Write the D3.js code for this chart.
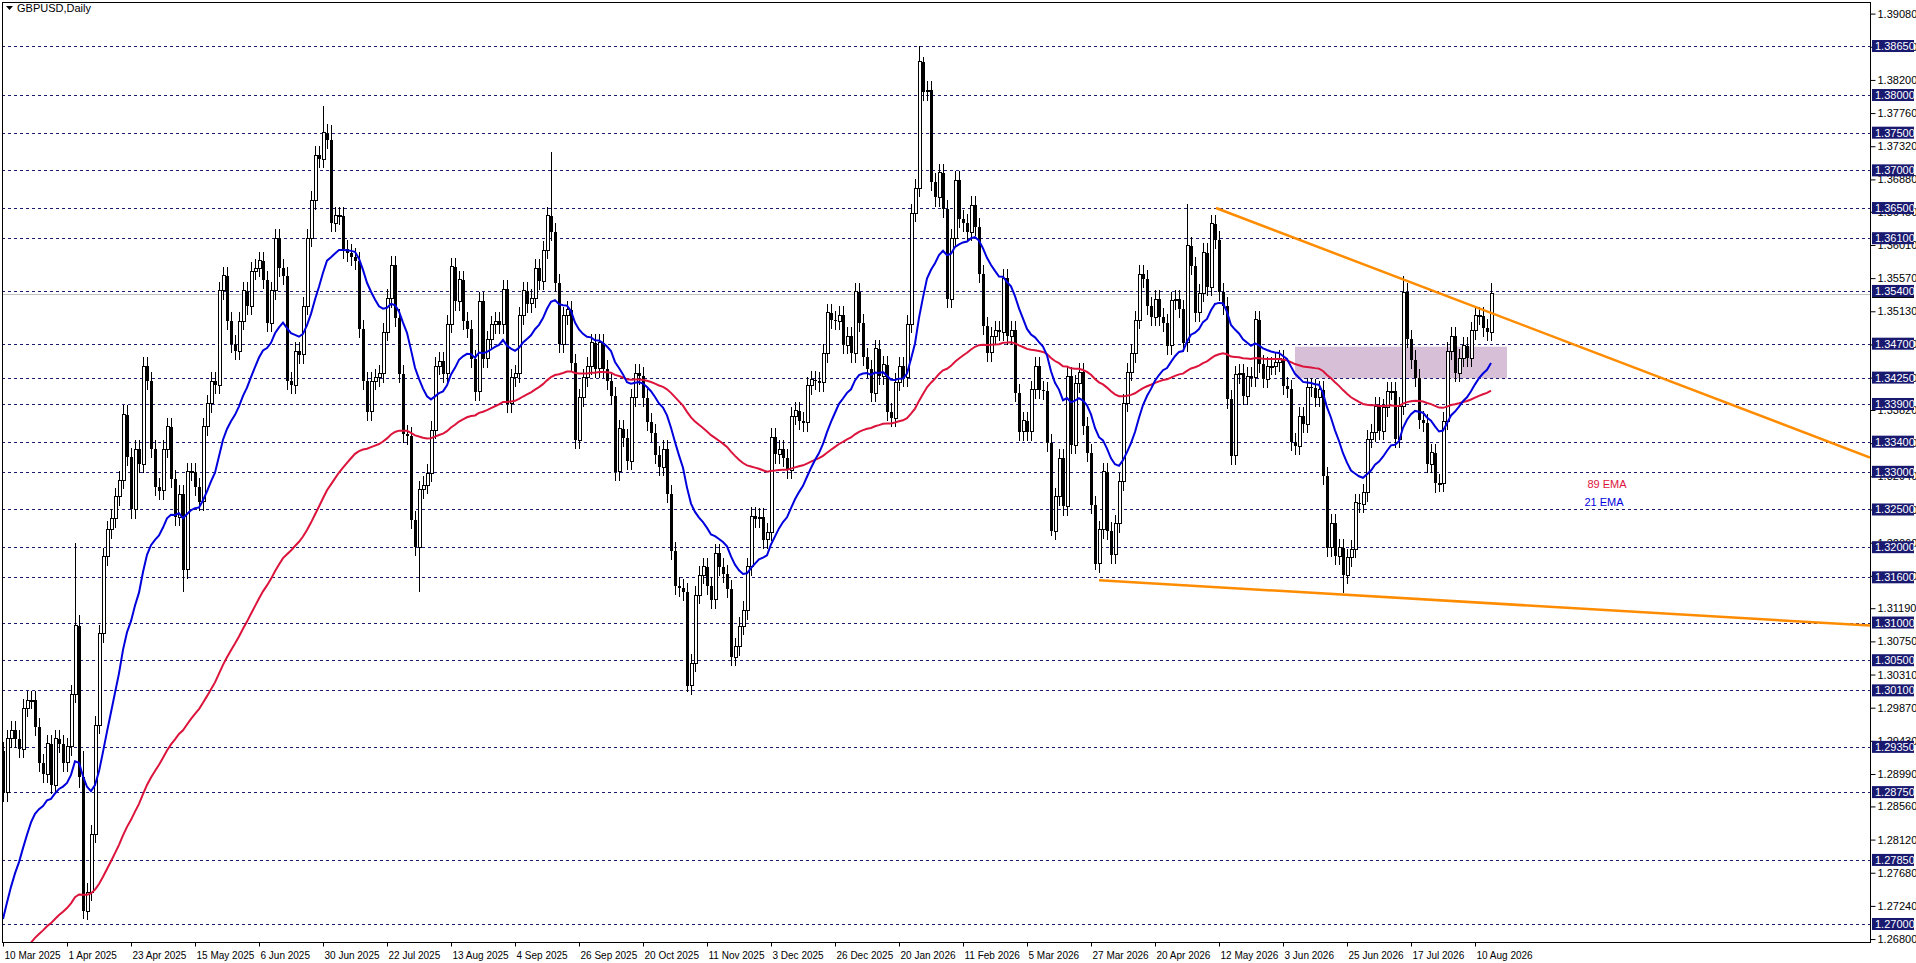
<!DOCTYPE html>
<html><head><meta charset="utf-8">
<script src="https://cdn.jsdelivr.net/npm/d3@7"></script>
<style>body{margin:0;background:#fff}svg{display:block}text{font-family:"Liberation Sans",Arial,sans-serif}</style>
</head><body><svg id="c" width="1916" height="963"></svg>
<script>
const dateLabels = ["10 Mar 2025","1 Apr 2025","23 Apr 2025","15 May 2025","6 Jun 2025","30 Jun 2025","22 Jul 2025","13 Aug 2025","4 Sep 2025","26 Sep 2025","20 Oct 2025","11 Nov 2025","3 Dec 2025","26 Dec 2025","20 Jan 2026","11 Feb 2026","5 Mar 2026","27 Mar 2026","20 Apr 2026","12 May 2026","3 Jun 2026","25 Jun 2026","17 Jul 2026","10 Aug 2026"];
const dateLabelStep = 16;
const closes = [
1.2874,1.2946,1.2957,1.2946,1.2932,1.2986,1.2997,1.2997,1.2961,1.2914,1.2899,1.2939,1.2884,1.2946,1.2939,1.2914,1.2935,1.3005,1.3096,1.2895,
1.2717,1.2742,1.2819,1.2964,1.3085,1.3187,1.3223,1.3238,1.3267,1.3289,
1.3376,1.3320,1.3250,1.3330,1.3310,1.3440,1.3420,1.3330,1.3280,1.3275,
1.3330,1.3360,1.3290,1.3240,1.3270,1.3170,1.3300,1.3300,1.3280,1.3260,
1.3360,1.3390,1.3420,1.3415,1.3540,1.3560,1.3500,1.3470,1.3460,1.3500,
1.3540,1.3520,1.3566,1.3570,1.3580,1.3555,1.3497,1.3540,1.3610,1.3570,
1.3560,1.3420,1.3415,1.3460,1.3455,1.3520,1.3610,1.3660,1.3720,1.3715,
1.3750,1.3740,1.3630,1.3640,1.3640,1.3595,1.3590,1.3585,1.3580,1.3490,
1.3420,1.3380,1.3420,1.3425,1.3430,1.3485,1.3530,1.3574,1.3504,1.3430,
1.3350,1.3348,1.3236,1.3200,1.3276,1.3282,1.3298,1.3355,1.3440,1.3447,
1.3430,1.3496,1.3572,1.3526,1.3555,1.3500,1.3490,1.3450,1.3406,1.3526,
1.3450,1.3475,1.3495,1.3500,1.3495,1.3542,1.3390,1.3425,1.3430,1.3507,
1.3540,1.3523,1.3530,1.3570,1.3553,1.3594,1.3640,1.3618,1.3550,1.3469,
1.3507,1.3515,1.3444,1.3342,1.3398,1.3425,1.3440,1.3471,1.3437,1.3471,
1.3437,1.3420,1.3401,1.3300,1.3357,1.3345,1.3314,1.3398,1.3431,1.3427,
1.3398,1.3366,1.3352,1.3322,1.3306,1.3330,1.3271,1.3195,1.3149,1.3146,
1.3140,1.3016,1.3046,1.3136,1.3163,1.3174,1.3149,1.3130,1.3192,1.3174,
1.3165,1.3144,1.3054,1.3068,1.3095,1.3116,1.3174,1.3241,1.3238,1.3240,
1.3210,1.3220,1.3346,1.3323,1.3330,1.3318,1.3302,1.3374,1.3381,1.3368,
1.3365,1.3414,1.3422,1.3420,1.3418,1.3457,1.3511,1.3501,1.3500,1.3508,
1.3468,1.3480,1.3457,1.3539,1.3498,1.3452,1.3437,1.3404,1.3463,1.3427,
1.3442,1.3379,1.3371,1.3419,1.3440,1.3425,1.3496,1.3643,1.3676,1.3844,
1.3804,1.3806,1.3684,1.3664,1.3697,1.3649,1.3529,1.3610,1.3687,1.3636,
1.3630,1.3618,1.3654,1.3625,1.3562,1.3493,1.3458,1.3480,1.3488,1.3485,
1.3557,1.3480,1.3488,1.3405,1.3353,1.3368,1.3353,1.3409,1.3440,1.3409,
1.3407,1.3338,1.3221,1.3267,1.3318,1.3254,1.3427,1.3335,1.3417,1.3432,
1.3361,1.3325,1.3256,1.3178,1.3223,1.3300,1.3221,1.3190,1.3231,1.3287,
1.3391,1.3432,1.3457,1.3501,1.3562,1.3556,1.3520,1.3505,1.3529,1.3505,
1.3498,1.3467,1.3527,1.3529,1.3516,1.3471,1.3600,1.3573,1.3511,1.3537,
1.3591,1.3545,1.3629,1.3607,1.3538,1.3520,1.3396,1.3321,1.3429,1.3431,
1.3400,1.3427,1.3425,1.3502,1.3443,1.3423,1.3440,1.3440,1.3445,1.3450,
1.3414,1.3410,1.3339,1.3334,1.3374,1.3363,1.3412,1.3411,1.3398,1.3409,
1.3294,1.3199,1.3232,1.3188,1.3199,1.3163,1.3186,1.3197,1.3259,1.3257,
1.3272,1.3343,1.3352,1.3387,1.3354,1.3385,1.3407,1.3407,1.3343,1.3387,
1.3538,1.3476,1.3449,1.3425,1.3369,1.3365,1.3310,1.3325,1.3285,1.3285,
1.3367,1.3460,1.3480,1.3431,1.3451,1.3467,1.3451,1.3487,1.3507,1.3507,1.3491,1.3485,1.3536];
const firstOpen = 1.2930;
// notable wick extremes [index, high, low]
const extremes = [[18,1.3205,null],[19,1.3110,1.2880],[20,1.2930,1.2706],[45,null,1.3140],[80,1.3786,null],[82,1.3760,null],[104,null,1.3141],[137,1.3725,null],[171,null,1.3008],[229,1.3865,null],[230,1.3850,null],[262,null,1.3215],[273,null,1.3170],[296,1.3656,null],[335,null,1.3139],[350,1.3560,null],[358,null,1.3272],[372,1.3550,null]];
const ema21Seed = 1.2690, ema89Seed = 1.2620;
const levels = [1.3865,1.3800,1.3750,1.3700,1.3650,1.3610,1.3540,1.3470,1.3425,1.3390,1.3340,1.3300,1.3250,1.3200,1.3160,1.3100,1.3050,1.3010,1.2935,1.2875,1.2785,1.2700];
const axisTicks = [1.3908,1.3864,1.3820,1.3776,1.3732,1.3688,1.3645,1.3601,1.3557,1.3513,1.3469,1.3425,1.3382,1.3338,1.3294,1.3250,1.3206,1.3162,1.3119,1.3075,1.3031,1.2987,1.2943,1.2899,1.2856,1.2812,1.2768,1.2724,1.2680];
const upperTrend = [[303.25,1.3650],[466.75,1.3319]];
const lowerTrend = [[274,1.3156],[466.75,1.3096]];
const zone = {i0:323, i1:376, top:1.3466, bottom:1.3424};
const lastPrice = 1.35360;

const svg = d3.select("#c");
const L=2, R=1870, T=2, B=942;
const x = d3.scaleLinear().domain([0,466.75]).range([3,R]);
const y = d3.scaleLinear().domain([1.26761,1.39234]).range([B,T]);
const fmt = d3.format(".5f");

const bars = closes.map((c,i)=>{const o=i?closes[i-1]:firstOpen; return {i,o,c,h:Math.max(o,c)+0.0012,l:Math.min(o,c)-0.0012};});
extremes.forEach(([i,h,l])=>{if(h!=null)bars[i].h=h; if(l!=null)bars[i].l=l;});
function ema(seed,n){const a=2/(n+1);let e=seed;return closes.map(c=>(e=e+a*(c-e)));}
const e21=ema(ema21Seed,21), e89=ema(ema89Seed,89);

const g=svg.append("g");
g.append("defs").append("clipPath").attr("id","cp").append("rect").attr("x",L).attr("y",T).attr("width",R-L).attr("height",B-T);
const plot=g.append("g").attr("clip-path","url(#cp)");

plot.append("rect").attr("x",x(zone.i0)).attr("width",x(zone.i1)-x(zone.i0)).attr("y",y(zone.top)).attr("height",y(zone.bottom)-y(zone.top)).attr("fill","#d8bfd8");
plot.selectAll("line.lv").data(levels).join("line").attr("x1",L).attr("x2",R).attr("y1",d=>Math.round(y(d))+0.5).attr("y2",d=>Math.round(y(d))+0.5).attr("stroke","#1a1a6e").attr("stroke-dasharray","3,3");
plot.append("line").attr("x1",L).attr("x2",R).attr("y1",Math.round(y(lastPrice))+0.5).attr("y2",Math.round(y(lastPrice))+0.5).attr("stroke","#c0c0c0");
const cg=plot.append("g").attr("shape-rendering","crispEdges");
cg.selectAll("line.w").data(bars).join("line").attr("x1",d=>Math.round(x(d.i))+0.5).attr("x2",d=>Math.round(x(d.i))+0.5).attr("y1",d=>y(d.h)).attr("y2",d=>y(d.l)).attr("stroke","#000");
cg.selectAll("rect.b").data(bars).join("rect").attr("x",d=>Math.round(x(d.i))-1).attr("width",3).attr("y",d=>y(Math.max(d.o,d.c))).attr("height",d=>Math.max(1,Math.abs(y(d.o)-y(d.c)))).attr("fill",d=>d.c>=d.o?"#fff":"#000").attr("stroke","#000").attr("stroke-width",d=>d.c>=d.o?1:0);
const line=d3.line().x((d,i)=>x(i)).y(d=>y(d));
plot.append("path").attr("d",line(e89)).attr("fill","none").attr("stroke","#dc143c").attr("stroke-width",2);
plot.append("path").attr("d",line(e21)).attr("fill","none").attr("stroke","#0000dd").attr("stroke-width",2);
const tl=d3.line().x(d=>x(d[0])).y(d=>y(d[1]));
plot.append("path").attr("d",tl(upperTrend)).attr("stroke","#ff8c00").attr("stroke-width",2.5).attr("fill","none");
plot.append("path").attr("d",tl(lowerTrend)).attr("stroke","#ff8c00").attr("stroke-width",2.5).attr("fill","none");

g.append("rect").attr("x",L+0.5).attr("y",T+0.5).attr("width",R-L).attr("height",B-T).attr("fill","none").attr("stroke","#000");
const ya=d3.axisRight(y).tickValues(axisTicks).tickSize(5).tickFormat(fmt);
const yg=g.append("g").attr("transform",`translate(${R+0.5},0)`).call(ya);
yg.select(".domain").remove();
yg.selectAll("text").attr("font-size",11).attr("fill","#000").attr("x",7).attr("font-family","Liberation Sans");
g.append("rect").attr("x",R+2).attr("y",y(lastPrice)-3).attr("width",42).attr("height",7).attr("fill","#000");
const lb=g.append("g");
lb.selectAll("rect").data(levels).join("rect").attr("x",R+2).attr("y",d=>y(d)-6).attr("width",42).attr("height",12).attr("fill","#191970");
lb.selectAll("text").data(levels).join("text").attr("x",R+5).attr("y",d=>y(d)+4).attr("font-size",11).attr("fill","#fff").text(d=>fmt(d));
const xa=g.append("g").attr("transform",`translate(0,${B+0.5})`);
dateLabels.forEach((t,k)=>{const xi=Math.round(x(k*dateLabelStep))+0.5;
 xa.append("line").attr("x1",xi).attr("x2",xi).attr("y1",0).attr("y2",4).attr("stroke","#000");
 xa.append("text").attr("x",xi+1).attr("y",16).attr("font-size",10).text(t);});
g.append("path").attr("d","M6,6 L13,6 L9.5,10 Z").attr("fill","#000");
g.append("text").attr("x",17).attr("y",12).attr("font-size",11).text("GBPUSD,Daily");
g.append("text").attr("x",1607).attr("y",488).attr("text-anchor","middle").attr("font-size",11).attr("fill","#dc143c").text("89 EMA");
g.append("text").attr("x",1604).attr("y",506).attr("text-anchor","middle").attr("font-size",11).attr("fill","#0000dd").text("21 EMA");
</script></body></html>
